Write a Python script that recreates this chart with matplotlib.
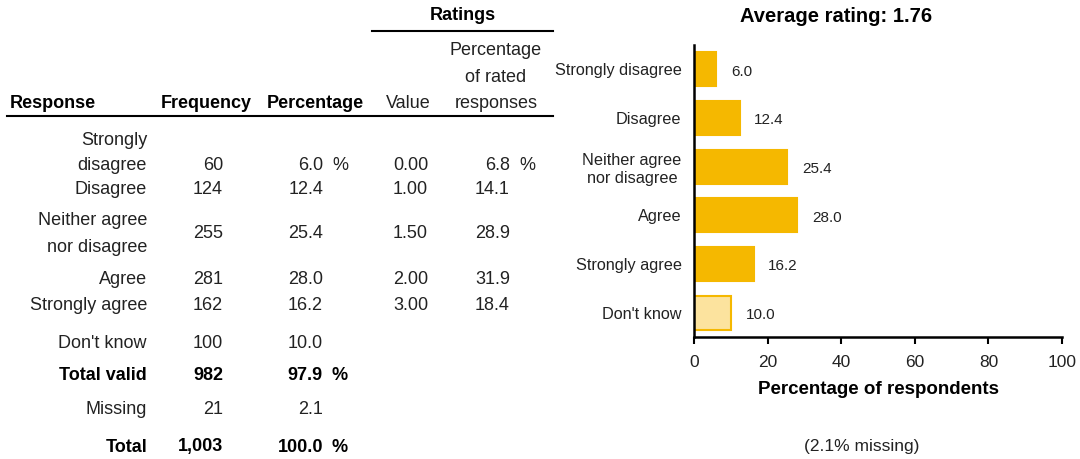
import matplotlib
matplotlib.use("Agg")
import matplotlib.pyplot as plt
from matplotlib.lines import Line2D

plt.rcParams['font.family'] = ['Liberation Sans', 'DejaVu Sans']

# table data
responses = ["Strongly\ndisagree", "Disagree", "Neither agree\nnor disagree",
             "Agree", "Strongly agree", "Don't know"]
frequency = ["60", "124", "255", "281", "162", "100"]
percentage = ["6.0", "12.4", "25.4", "28.0", "16.2", "10.0"]
rating_value = ["0.00", "1.00", "1.50", "2.00", "3.00"]
rated_pct = ["6.8", "14.1", "28.9", "31.9", "18.4"]

total_rows = ["Total valid", "Missing", "Total"]
total_freq = ["982", "21", "1,003"]
total_pct = ["97.9", "2.1", "100.0"]
total_bold = [True, False, True]

# chart data
chart_labels = ["Strongly disagree", "Disagree", "Neither agree\nnor disagree",
                "Agree", "Strongly agree", "Don't know"]
chart_values = [6.0, 12.4, 25.4, 28.0, 16.2, 10.0]
avg_rating = 1.76
missing_pct = 2.1

W, H = 1080, 459
fig = plt.figure(figsize=(W / 100, H / 100), dpi=100)

def fx(px):
    return px / W

def fy(py):
    return 1 - py / H

txt = '#222222'
fs = 13

def put(x, y, s, ha='right', bold=False, **kw):
    fig.text(fx(x), fy(y), s, ha=ha, va='center', fontsize=fs, color=txt if not bold else 'black',
             fontweight='bold' if bold else 'normal', **kw)

# headers
put(463, 16, "Ratings", ha='center', bold=True)
fig.add_artist(Line2D([fx(372), fx(553)], [fy(31), fy(31)], color='black', lw=1.5))
put(10, 103, "Response", ha='left', bold=True)
put(206, 103, "Frequency", ha='center', bold=True)
put(315, 103, "Percentage", ha='center', bold=True)
put(408, 103, "Value", ha='center')
put(496, 77, "Percentage\nof rated\nresponses", ha='center', linespacing=1.75)
fig.add_artist(Line2D([fx(7), fx(553)], [fy(116), fy(116)], color='black', lw=1.5))

# rows: label y, numbers y, spacing between the two lines of a label
label_y = [153, 190, 234, 279, 305, 343]
num_y = [165, 190, 234, 279, 305, 343]
label_ls = [1.62, 1.2, 1.8, 1.2, 1.2, 1.2]
for i, r in enumerate(responses):
    put(147, label_y[i], r, ma='right', linespacing=label_ls[i])
    put(223, num_y[i], frequency[i])
    put(323, num_y[i], percentage[i])
    if i < len(rating_value):
        put(428, num_y[i], rating_value[i])
        put(510, num_y[i], rated_pct[i])
put(332, num_y[0], "%", ha='left')
put(519, num_y[0], "%", ha='left')

tot_y = [375, 410, 447]
for i, r in enumerate(total_rows):
    b = total_bold[i]
    put(147, tot_y[i], r, bold=b)
    put(223, tot_y[i], total_freq[i], bold=b)
    put(323, tot_y[i], total_pct[i], bold=b)
    if b:
        put(332, tot_y[i], "%", ha='left', bold=True)

# bar chart
ax = fig.add_axes([fx(694), fy(337), fx(1062) - fx(694), fy(45) - fy(337)])
gold = '#F5B800'
colors = [gold] * 5 + ['#FCE39E']
ypos = list(range(len(chart_values)))
ax.barh(ypos, chart_values, height=0.7, color=colors, edgecolor=[gold] * 6, linewidth=1.5)
for y, v in zip(ypos, chart_values):
    ax.text(v + 4, y + 0.05, f"{v:.1f}", ha='left', va='center', fontsize=11, color=txt)

ax.set_xlim(0, 100)
ax.set_ylim(5.5, -0.5)
ax.set_yticks(ypos)
ax.set_yticklabels(chart_labels, fontsize=11.7, color=txt, multialignment='center')
ax.set_xticks([0, 20, 40, 60, 80, 100])
ax.tick_params(axis='y', length=0, pad=9)
ax.tick_params(axis='x', direction='out', length=5, width=1.5, labelsize=12.5, labelcolor=txt, pad=8)
for s in ['top', 'right']:
    ax.spines[s].set_visible(False)
for s in ['left', 'bottom']:
    ax.spines[s].set_linewidth(1.8)
ax.set_xlabel("Percentage of respondents", fontsize=13.5, fontweight='bold', labelpad=8)
fig.text(fx(836), fy(16), f"Average rating: {avg_rating:.2f}", ha='center', va='center',
         fontsize=14.5, fontweight='bold')
fig.text(fx(862), fy(446), f"({missing_pct:.1f}% missing)", ha='center', va='center',
         fontsize=12.5, color=txt)

fig.savefig("out.png", dpi=100)
